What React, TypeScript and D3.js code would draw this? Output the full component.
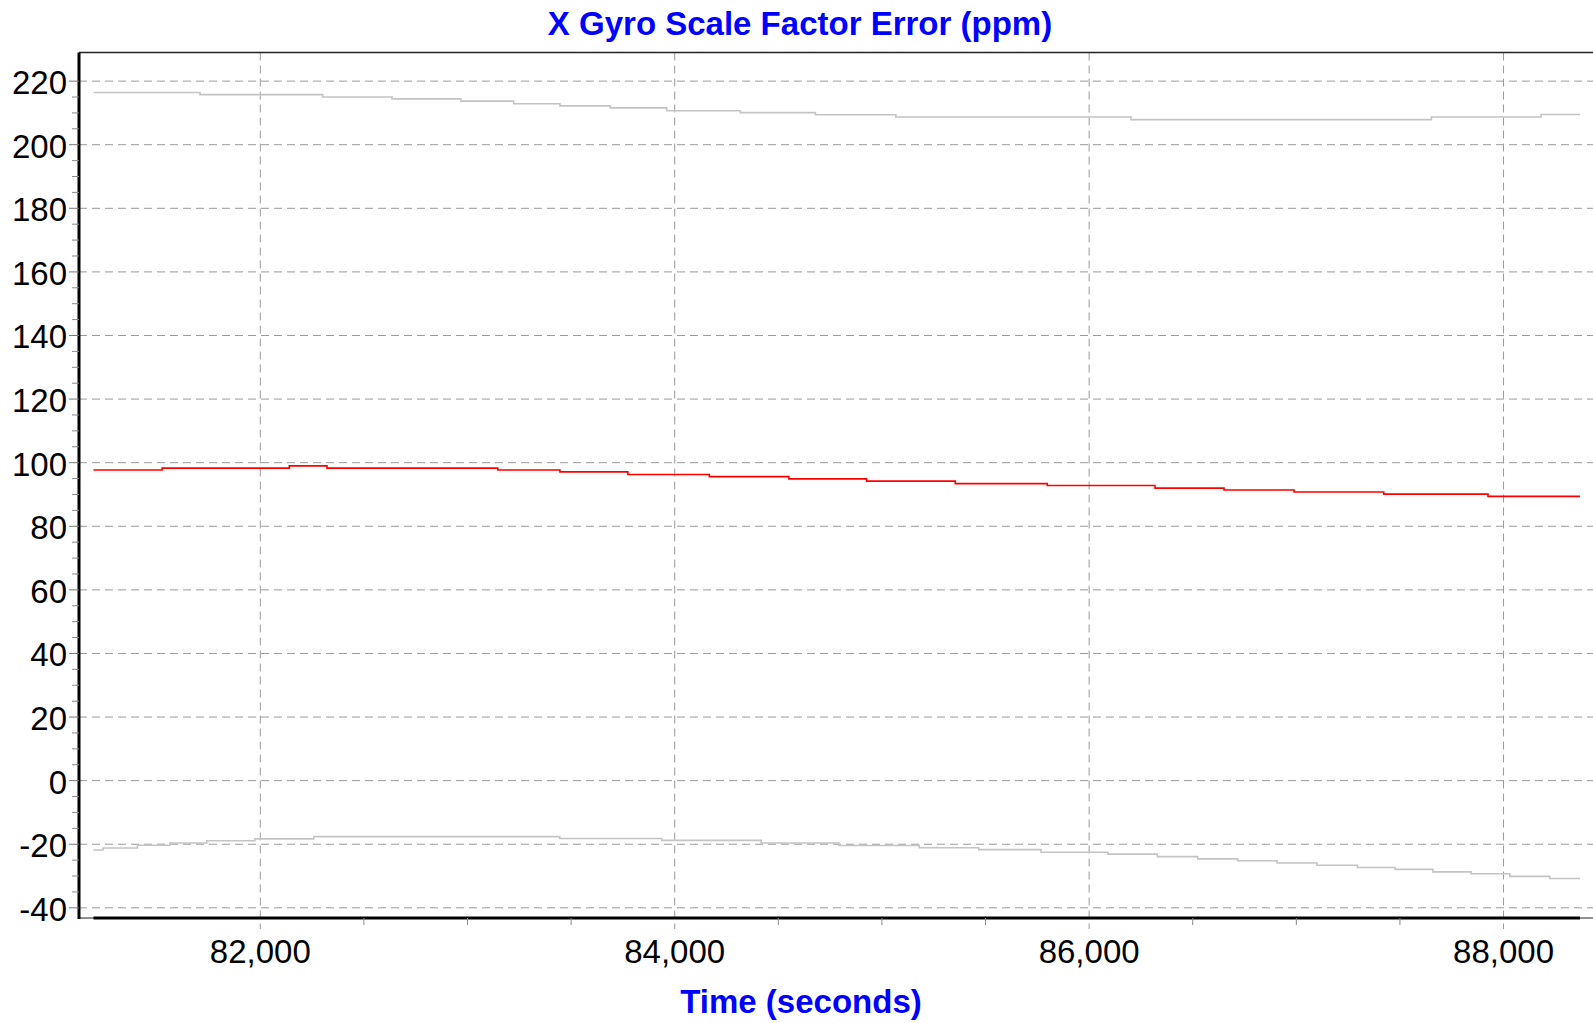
import React from "react";
import * as d3 from "d3";

// ---- data ----
const tStart = 81195;
const tEnd = 88369;

const upperTimes = [81195, 81709, 82301, 82636, 82968, 83223, 83446, 83689, 83961, 84317, 84679, 85067, 86202, 87652, 88181];
const upperValues = [216.4, 215.75, 215.0, 214.4, 213.7, 212.9, 212.2, 211.6, 210.7, 210.1, 209.4, 208.7, 207.9, 208.7, 209.5];

const estTimes = [81195, 81526, 82140, 82322, 83146, 83446, 83774, 84167, 84551, 84926, 85354, 85798, 86318, 86651, 86989, 87422, 87925];
const estValues = [97.7, 98.3, 99.0, 98.3, 97.7, 97.1, 96.3, 95.6, 94.9, 94.2, 93.4, 92.8, 92.0, 91.4, 90.8, 90.1, 89.4];

const lowerTimes = [81195, 81241, 81407, 81564, 81742, 81974, 82258, 83445, 83937, 84417, 84793, 85180, 85467, 85768, 86090, 86329, 86524, 86717, 86907, 87100, 87295, 87476, 87659, 87843, 88030, 88223];
const lowerValues = [-21.8, -21.2, -20.3, -19.6, -18.9, -18.3, -17.6, -18.2, -18.8, -19.6, -20.4, -21.1, -21.7, -22.5, -23.1, -23.9, -24.6, -25.2, -25.9, -26.6, -27.3, -27.9, -28.7, -29.3, -30.1, -30.8];

const xMajorTicks = [82000, 84000, 86000, 88000];
const xMinorTicks = [82500, 83000, 83500, 84500, 85000, 85500, 86500, 87000, 87500];
const yMajorTicks = [-40, -20, 0, 20, 40, 60, 80, 100, 120, 140, 160, 180, 200, 220];

const title = "X Gyro Scale Factor Error (ppm)";
const xLabel = "Time (seconds)";

const W = 1593;
const H = 1023;
const FONT = "'Liberation Sans', Arial, Helvetica, sans-serif";

export default function App() {
  const x = d3.scaleLinear().domain([tStart, tEnd]).range([93.5, 1580]);
  const y = d3.scaleLinear().domain([-43.2, 229]).range([918, 52.5]);

  const axisX = 79;
  const axisY = 918;
  const top = 52.5;

  const stepLine = (times: number[], vals: number[]) => {
    const pts: [number, number][] = times.map((t, i) => [t, vals[i]]);
    pts.push([tEnd, vals[vals.length - 1]]);
    return d3
      .line<[number, number]>()
      .x((d) => x(d[0]))
      .y((d) => y(d[1]))
      .curve(d3.curveStepAfter)(pts) as string;
  };

  const yMinor = d3.range(-40, 221, 5).filter((v) => v % 20 !== 0);
  const fmt = d3.format(",");

  return (
    <svg
      width={W}
      height={H}
      style={{ position: "absolute", left: 0, top: 0, background: "#fff" }}
      fontFamily={FONT}
    >
      <rect x={0} y={0} width={W} height={H} fill="#fff" />
      {/* horizontal grid */}
      {yMajorTicks.map((v) => (
        <line
          key={"hg" + v}
          x1={axisX}
          x2={W}
          y1={y(v)}
          y2={y(v)}
          stroke="#9a9a9a"
          strokeWidth={1}
          strokeDasharray="8,5"
        />
      ))}
      {/* vertical grid */}
      {xMajorTicks.map((v) => (
        <line
          key={"vg" + v}
          x1={x(v)}
          x2={x(v)}
          y1={top}
          y2={axisY + 11}
          stroke="#9a9a9a"
          strokeWidth={1}
          strokeDasharray="8,5"
        />
      ))}
      {/* frame */}
      <line x1={axisX} x2={W} y1={top} y2={top} stroke="#222" strokeWidth={1.5} />
      <line x1={axisX} x2={W} y1={axisY} y2={axisY} stroke="#222" strokeWidth={1} />
      {/* series */}
      <path d={stepLine(upperTimes, upperValues)} fill="none" stroke="#c4c4c4" strokeWidth={1.6} />
      <path d={stepLine(lowerTimes, lowerValues)} fill="none" stroke="#c4c4c4" strokeWidth={1.6} />
      <path d={stepLine(estTimes, estValues)} fill="none" stroke="#ff0000" strokeWidth={1.6} />
      {/* axes */}
      <line x1={axisX} x2={axisX} y1={top} y2={axisY + 1} stroke="#000" strokeWidth={3} />
      <line x1={x(tStart)} x2={x(tEnd)} y1={axisY} y2={axisY} stroke="#000" strokeWidth={3} />
      {/* y ticks */}
      {yMajorTicks.map((v) => (
        <g key={"yt" + v}>
          <line x1={axisX - 10} x2={axisX} y1={y(v)} y2={y(v)} stroke="#777" strokeWidth={1} />
          <text x={67} y={y(v) + 13} textAnchor="end" fontSize={33} fill="#000">
            {v}
          </text>
        </g>
      ))}
      {yMinor.map((v) => (
        <line key={"ym" + v} x1={axisX - 7} x2={axisX} y1={y(v)} y2={y(v)} stroke="#888" strokeWidth={1} />
      ))}
      {/* x ticks */}
      {xMinorTicks.map((v) => (
        <line key={"xm" + v} x1={x(v)} x2={x(v)} y1={axisY} y2={axisY + 7} stroke="#888" strokeWidth={1} />
      ))}
      {xMajorTicks.map((v) => (
        <text key={"xl" + v} x={x(v)} y={963} textAnchor="middle" fontSize={33} fill="#000">
          {fmt(v)}
        </text>
      ))}
      {/* titles */}
      <text x={800} y={35} textAnchor="middle" fontSize={33} fontWeight="bold" fill="#0000ff">
        {title}
      </text>
      <text x={801} y={1013} textAnchor="middle" fontSize={33} fontWeight="bold" fill="#0000ff">
        {xLabel}
      </text>
    </svg>
  );
}
